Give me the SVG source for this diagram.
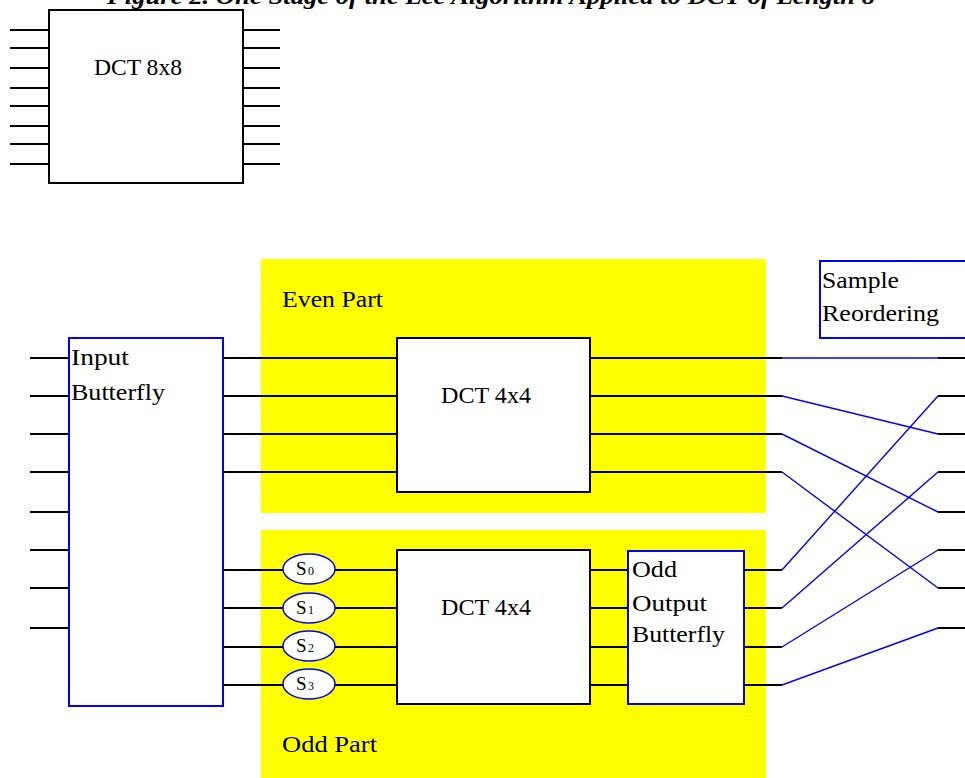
<svg xmlns="http://www.w3.org/2000/svg" width="965" height="778" viewBox="0 0 965 778">
<style>
.w{stroke:#000;stroke-width:2;fill:none}
.bl{stroke:#0000ff;stroke-width:1.4;fill:none}
.box{fill:#fff;stroke:#000;stroke-width:2}
.bbox{fill:#fff;stroke:#0000ff;stroke-width:2}
.yel{fill:#ffff00;stroke:none}
.oval{fill:#fff;stroke:#0000ff;stroke-width:1.5}
text{font-family:"Liberation Serif","Times New Roman",serif;fill:#000}
.t{font-size:24px}
.s{font-size:19px}
.d{font-size:12px}
</style>
<rect width="965" height="778" fill="#fff"/>
<text x="107" y="4" font-size="24" font-weight="bold" font-style="italic" textLength="768" lengthAdjust="spacingAndGlyphs">Figure 2. One Stage of the Lee Algorithm Applied to DCT of Length 8</text>

<g id="dct8x8">
<path class="w" d="M10 30H49M10 48H49M10 68H49M10 88H49M10 106H49M10 126H49M10 144H49M10 164H49M243 30H280M243 48H280M243 68H280M243 88H280M243 106H280M243 126H280M243 144H280M243 164H280"/>
<rect class="box" x="49" y="10" width="194" height="173"/>
<text class="t" x="94" y="75" textLength="88" lengthAdjust="spacingAndGlyphs">DCT 8x8</text>
</g>

<g id="even-part">
<rect class="yel" x="261" y="259" width="505" height="254"/>
<text class="t" x="282" y="307" textLength="101" lengthAdjust="spacingAndGlyphs">Even Part</text>
</g>
<g id="odd-part">
<rect class="yel" x="261" y="530" width="505" height="248"/>
<text class="t" x="282" y="752" textLength="95" lengthAdjust="spacingAndGlyphs">Odd Part</text>
</g>

<g id="connectors">
<path class="w" d="M30 358H69M30 396H69M30 434H69M30 472H69M30 512H69M30 550H69M30 588H69M30 628H69"/>
<path class="w" d="M223 358H397M223 396H397M223 434H397M223 472H397"/>
<path class="w" d="M223 570H397M223 608H397M223 647H397M223 685H397"/>
<path class="w" d="M590 358H782M590 396H782M590 434H782M590 472H782"/>
<path class="w" d="M590 570H628M590 608H628M590 647H628M590 685H628"/>
<path class="w" d="M744 570H782M744 608H782M744 647H782M744 685H782"/>
<path class="w" d="M938 358H965M938 396H965M938 434H965M938 472H965M938 512H965M938 550H965M938 588H965M938 628H965"/>
<path class="bl" d="M782 358H938M782 396L938 434M782 434L938 512M782 472L938 588M782 570L938 396M782 608L938 472M782 647L938 550M782 685L938 628"/>
</g>

<g id="input-butterfly">
<rect class="bbox" x="69" y="338" width="154" height="368"/>
<text class="t" x="71" y="365" textLength="58" lengthAdjust="spacingAndGlyphs">Input</text>
<text class="t" x="71" y="400" textLength="94" lengthAdjust="spacingAndGlyphs">Butterfly</text>
</g>

<g id="dct4x4-even">
<rect class="box" x="397" y="338" width="193" height="154"/>
<text class="t" x="441" y="403" textLength="90" lengthAdjust="spacingAndGlyphs">DCT 4x4</text>
</g>

<g id="dct4x4-odd">
<rect class="box" x="397" y="550" width="193" height="154"/>
<text class="t" x="441" y="615" textLength="90" lengthAdjust="spacingAndGlyphs">DCT 4x4</text>
</g>

<g id="s0"><ellipse class="oval" cx="309" cy="569" rx="26" ry="15"/><text class="s" x="296" y="575">S</text><text class="d" x="308" y="575">0</text></g>
<g id="s1"><ellipse class="oval" cx="309" cy="608" rx="26" ry="15"/><text class="s" x="296" y="614">S</text><text class="d" x="308" y="614">1</text></g>
<g id="s2"><ellipse class="oval" cx="309" cy="646" rx="26" ry="15"/><text class="s" x="296" y="652">S</text><text class="d" x="308" y="652">2</text></g>
<g id="s3"><ellipse class="oval" cx="309" cy="684" rx="26" ry="15"/><text class="s" x="296" y="690">S</text><text class="d" x="308" y="690">3</text></g>

<g id="odd-output-butterfly">
<rect class="bbox" x="628" y="551" width="116" height="153"/>
<text class="t" x="632" y="577" textLength="45" lengthAdjust="spacingAndGlyphs">Odd</text>
<text class="t" x="632" y="611" textLength="75" lengthAdjust="spacingAndGlyphs">Output</text>
<text class="t" x="632" y="642" textLength="93" lengthAdjust="spacingAndGlyphs">Butterfly</text>
</g>

<g id="sample-reordering">
<rect class="bbox" x="820" y="261" width="160" height="77"/>
<text class="t" x="822" y="288" textLength="77" lengthAdjust="spacingAndGlyphs">Sample</text>
<text class="t" x="822" y="321" textLength="117" lengthAdjust="spacingAndGlyphs">Reordering</text>
</g>
</svg>
